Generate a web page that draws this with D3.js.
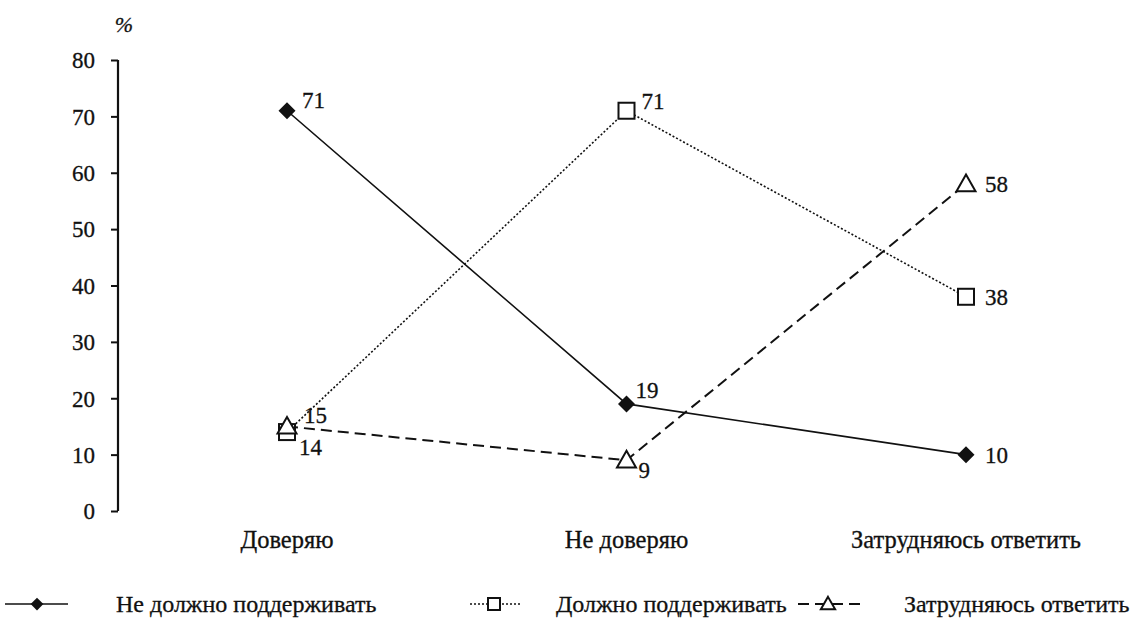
<html>
<head>
<meta charset="utf-8">
<script src="https://d3js.org/d3.v7.min.js"></script>
</head>
<body style="margin:0">
<script>
var categories = ["Доверяю", "Не доверяю", "Затрудняюсь ответить"];
var seriesNames = ["Не должно поддерживать", "Должно поддерживать", "Затрудняюсь ответить"];
var notSupport = [71, 19, 10];
var support = [14, 71, 38];
var hardToSay = [15, 9, 58];
var yTicks = [0, 10, 20, 30, 40, 50, 60, 70, 80];

var w = 1148, h = 619;
var svg = d3.select("body").append("svg").attr("width", w).attr("height", h);

// все подписи одним шрифтом
function txt(sel, size) {
  return sel.style("font-family", "Liberation Serif").attr("font-size", size)
    .attr("fill", "#111").attr("stroke", "#111").attr("stroke-width", 0.3);
}

var x = d3.scalePoint().domain(categories).range([287, 966]);
var y = d3.scaleLinear().domain([0, 80]).range([511, 60]);

// ось y
var yAxis = d3.axisLeft(y).tickValues(yTicks).tickSize(7).tickPadding(16);
var gy = svg.append("g").attr("transform", "translate(118,0)").call(yAxis);
gy.attr("font-family", null).attr("font-size", null);
gy.selectAll("line").attr("stroke", "#111").attr("stroke-width", 2);
gy.select(".domain").attr("stroke", "#111").attr("stroke-width", 2.2)
  .attr("d", "M0," + y(80) + "V" + y(0));
txt(gy.selectAll("text"), 23).attr("dy", "0.34em");

txt(svg.append("text"), 22).attr("x", 124).attr("y", 32)
  .style("font-style", "italic").attr("text-anchor", "middle").text("%");

// подписи категорий
txt(svg.selectAll(".cat").data(categories).enter().append("text"), 24.5)
  .attr("x", d => x(d)).attr("y", 548).attr("text-anchor", "middle").text(d => d);

var series = [
  { name: seriesNames[0], values: notSupport, dash: null, width: 1.6, marker: "diamond",
    lab: [[15, -3], [9, -6], [19, 8]] },
  { name: seriesNames[1], values: support, dash: "2,2", width: 1.6, marker: "square",
    lab: [[12, 23], [15, -2], [19, 8]] },
  { name: seriesNames[2], values: hardToSay, dash: "11,6", width: 2, marker: "triangle",
    lab: [[17, -3], [12, 18], [19, 8]] }
];

var line = d3.line().x((d, i) => x(categories[i])).y(d => y(d));

function drawMarker(g, type, cx, cy, k) {
  if (type === "diamond") {
    var r = 8.5 * k;
    g.append("path").attr("d", "M" + cx + "," + (cy - r) + "L" + (cx + r) + "," + cy + "L" + cx + "," + (cy + r) + "L" + (cx - r) + "," + cy + "Z")
      .attr("fill", "#111");
  } else if (type === "square") {
    var s = 8 * k;
    g.append("rect").attr("x", cx - s).attr("y", cy - s).attr("width", 2 * s).attr("height", 2 * s)
      .attr("fill", "#fff").attr("stroke", "#111").attr("stroke-width", 2);
  } else {
    var t = 9.5 * k;
    g.append("path").attr("d", "M" + cx + "," + (cy - t) + "L" + (cx + t) + "," + (cy + 0.75 * t) + "L" + (cx - t) + "," + (cy + 0.75 * t) + "Z")
      .attr("fill", "#fff").attr("stroke", "#111").attr("stroke-width", 2);
  }
}

series.forEach(function(s) {
  svg.append("path").datum(s.values).attr("d", line)
    .attr("fill", "none").attr("stroke", "#111").attr("stroke-width", s.width)
    .attr("stroke-dasharray", s.dash);
});

series.forEach(function(s) {
  var g = svg.append("g");
  s.values.forEach(function(v, i) {
    drawMarker(g, s.marker, x(categories[i]), y(v), 1);
    txt(g.append("text"), 23).attr("x", x(categories[i]) + s.lab[i][0]).attr("y", y(v) + s.lab[i][1]).text(v);
  });
});

// легенда
var legendPos = [
  { x1: 5, x2: 68, mx: 37, tx: 116 },
  { x1: 470, x2: 522, mx: 494, tx: 556 },
  { x1: 798, x2: 862, mx: 828, tx: 904 }
];
var ly = 604;
series.forEach(function(s, i) {
  var p = legendPos[i];
  var g = svg.append("g");
  g.append("line").attr("x1", p.x1).attr("x2", p.x2).attr("y1", ly).attr("y2", ly)
    .attr("stroke", "#111").attr("stroke-width", s.width).attr("stroke-dasharray", s.dash);
  drawMarker(g, s.marker, p.mx, ly, 0.75);
  txt(g.append("text"), 24).attr("x", p.tx).attr("y", ly + 8).text(s.name);
});
</script>
</body>
</html>
